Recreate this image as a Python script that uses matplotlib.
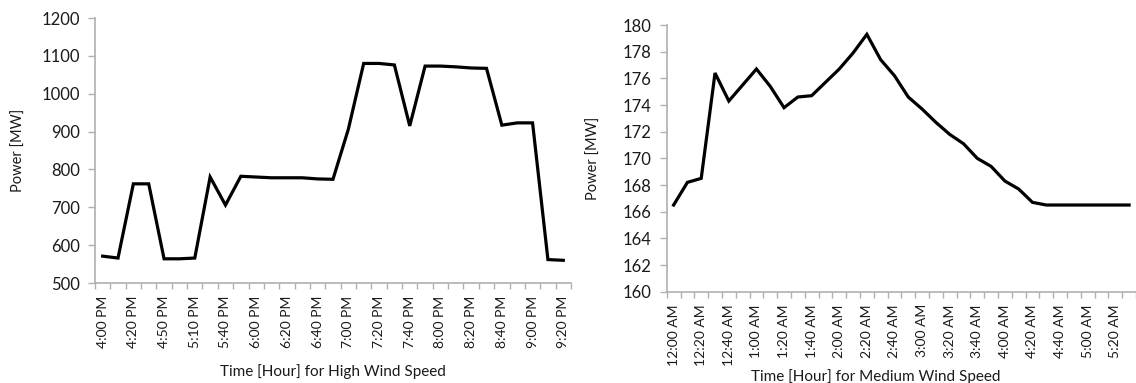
import numpy as np
import matplotlib
matplotlib.use("Agg")
from matplotlib import pyplot as plt
from matplotlib.ticker import FixedLocator

plt.rcParams['font.family'] = ['Lato', 'DejaVu Sans']

# High wind speed run (10 minute steps, every other step labelled)
high_labels = ["4:00 PM", "4:20 PM", "4:50 PM", "5:10 PM", "5:40 PM", "6:00 PM",
               "6:20 PM", "6:40 PM", "7:00 PM", "7:20 PM", "7:40 PM", "8:00 PM",
               "8:20 PM", "8:40 PM", "9:00 PM", "9:20 PM"]
high_power = [571, 566, 762, 762, 564, 564, 566, 780, 706, 782, 780,
              778, 778, 778, 775, 774, 906, 1080, 1080, 1076, 915,
              1073, 1073, 1071, 1068, 1067, 917, 923, 923, 562, 560]

# Medium wind speed run
medium_labels = ["12:00 AM", "12:20 AM", "12:40 AM", "1:00 AM", "1:20 AM", "1:40 AM",
                 "2:00 AM", "2:20 AM", "2:40 AM", "3:00 AM", "3:20 AM", "3:40 AM",
                 "4:00 AM", "4:20 AM", "4:40 AM", "5:00 AM", "5:20 AM"]
medium_power = [166.5, 168.2, 168.5, 176.4, 174.3, 175.5, 176.7, 175.4, 173.8,
                174.6, 174.7, 175.7, 176.7, 177.9, 179.3, 177.4, 176.2, 174.6,
                173.7, 172.7, 171.8, 171.1, 170.0, 169.4, 168.3, 167.7, 166.7,
                166.5, 166.5, 166.5, 166.5, 166.5, 166.5, 166.5]

AXIS_GREY = "#B0B0B0"
TEXT = "#1a1a1a"


def excel_style(ax, values, labels, ylim, ystep, xlabel):
    n = len(values)
    x = np.arange(n)
    ax.plot(x, values, color="black", lw=2.3, solid_joinstyle="miter")
    ax.set_xlim(-0.5, n - 0.5)
    ax.set_ylim(*ylim)
    ax.set_yticks(np.arange(ylim[0], ylim[1] + ystep / 2, ystep))

    # labels sit on every second category, tick marks between categories
    ax.set_xticks(x[::2][:len(labels)])
    ax.set_xticklabels(labels, rotation=90, fontsize=10, color=TEXT)
    ax.xaxis.set_minor_locator(FixedLocator(np.arange(-0.5, n, 1.0)))
    ax.tick_params(axis="x", which="major", length=0, pad=9)
    ax.tick_params(axis="x", which="minor", length=4, width=1, color=AXIS_GREY)
    ax.tick_params(axis="y", length=5, width=1, color=AXIS_GREY,
                   labelsize=12, labelcolor=TEXT, pad=6)

    for side in ("top", "right"):
        ax.spines[side].set_visible(False)
    for side in ("left", "bottom"):
        ax.spines[side].set_color(AXIS_GREY)
        ax.spines[side].set_linewidth(1.2)

    ax.set_ylabel("Power [MW]", fontsize=10.5, color=TEXT)
    ax.set_xlabel(xlabel, fontsize=11, color=TEXT)


fig = plt.figure(figsize=(11.36, 3.83), dpi=100)

ax1 = fig.add_axes([0.0836, 0.261, 0.419, 0.692])
excel_style(ax1, high_power, high_labels, (500, 1200), 100,
            "Time [Hour] for High Wind Speed")
ax1.yaxis.set_label_coords(-0.145, 0.5)
ax1.xaxis.set_label_coords(0.5, -0.305)

ax2 = fig.add_axes([0.5869, 0.2384, 0.4131, 0.6963])
excel_style(ax2, medium_power, medium_labels, (160, 180), 2,
            "Time [Hour] for Medium Wind Speed")
ax2.yaxis.set_label_coords(-0.14, 0.5)
ax2.xaxis.set_label_coords(0.445, -0.29)

fig.savefig("out.png", dpi=100)
